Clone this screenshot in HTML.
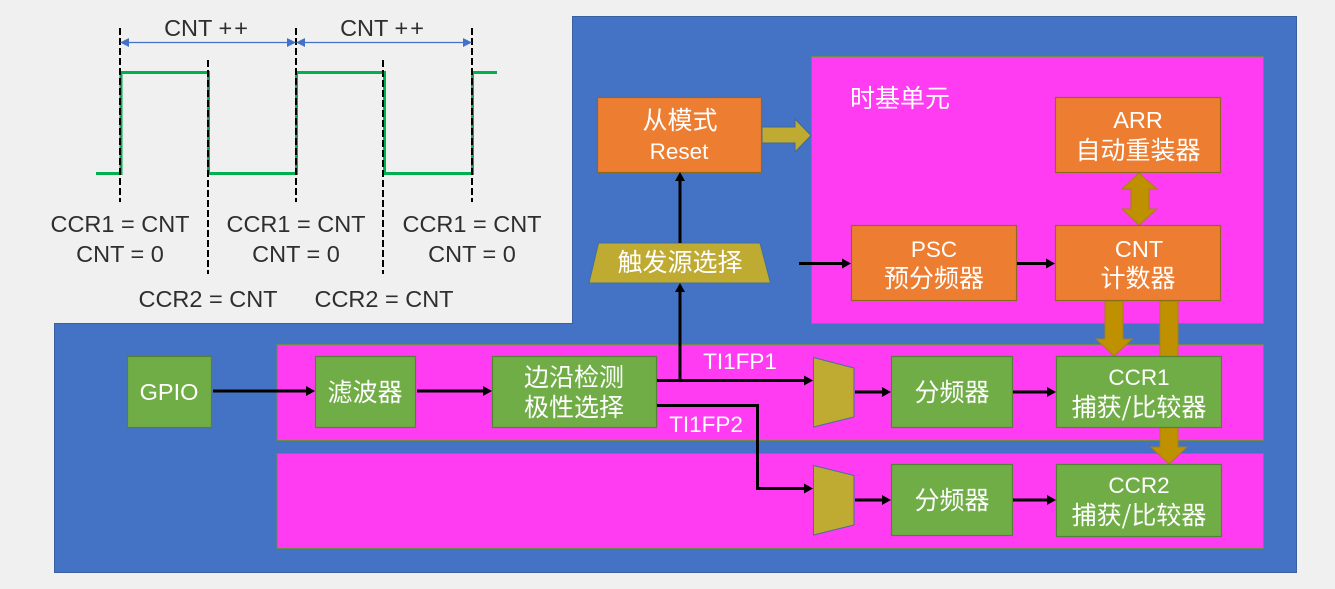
<!DOCTYPE html>
<html><head><meta charset="utf-8">
<style>
html,body{margin:0;padding:0;background:#f0f0f0;width:1335px;height:589px;overflow:hidden}
svg{display:block}
text{font-family:"Liberation Sans","Noto Sans CJK SC",sans-serif;font-size:23.5px;text-anchor:middle}
.w{fill:#fff}
.d{fill:#2e2e2e}
.s{font-size:22.5px}
.cj{font-size:25px;font-family:"Noto Sans CJK SC","Liberation Sans",sans-serif}
.o{fill:#ed7d31;stroke:#8f6a1a;stroke-width:1.2}
.g{fill:#70ad47;stroke:#548235;stroke-width:1.2}
.m{fill:#ff3cf2;stroke:#6a8a50;stroke-width:1}
.gold{fill:#bf9000;stroke:#a5801a;stroke-width:1}
.ol{fill:#bfab32;stroke:#41719c;stroke-width:1}
.c{fill:none;stroke:#000;stroke-width:3}
.a{fill:#000}
.dash{stroke:#000;stroke-width:2;stroke-dasharray:7 3;fill:none}
.wave{fill:none;stroke:#00b050;stroke-width:3}
</style></head><body>
<svg width="1335" height="589" viewBox="0 0 1335 589" xmlns="http://www.w3.org/2000/svg">
<rect width="1335" height="589" fill="#f0f0f0"/>
<polygon points="572.5,16.5 1296.5,16.5 1296.5,572.5 54.5,572.5 54.5,323.5 572.5,323.5" fill="#4472c4" stroke="#3a5f9f"/>
<rect class="m" x="811.5" y="56.5" width="452" height="267"/>
<rect class="m" x="277" y="344.5" width="986.5" height="96"/>
<rect class="m" x="277" y="453.5" width="986.5" height="95"/>

<!-- waveform -->
<path class="wave" d="M96,173.5H121V72.5H208.5V173.5H296.5V72.5H384.5V173.5H472.5V72.5H497"/>
<path class="dash" d="M120,28V202M296,28V202M472,28V202M208,60V274M383,60V274"/>
<g stroke="#4472c4" stroke-width="1.3" fill="none"><path d="M128,42.5H288M304,42.5H464"/></g>
<g fill="#4472c4">
<polygon points="120,42.5 129,38 129,47"/><polygon points="296,42.5 287,38 287,47"/>
<polygon points="296,42.5 305,38 305,47"/><polygon points="472,42.5 463,38 463,47"/>
</g>
<text class="d" x="207" y="36">CNT <tspan letter-spacing="2">++</tspan></text>
<text class="d" x="383" y="36">CNT <tspan letter-spacing="2">++</tspan></text>
<text class="d" x="120" y="232">CCR1 = CNT</text><text class="d" x="120" y="262">CNT = 0</text>
<text class="d" x="296" y="232">CCR1 = CNT</text><text class="d" x="296" y="262">CNT = 0</text>
<text class="d" x="472" y="232">CCR1 = CNT</text><text class="d" x="472" y="262">CNT = 0</text>
<text class="d" x="208" y="307">CCR2 = CNT</text>
<text class="d" x="384" y="307">CCR2 = CNT</text>

<!-- gold arrows -->
<polygon class="ol" points="762,127 795,127 795,119 811,135.5 795,152 795,143 762,143" style="stroke:#3f6a9c"/>
<polygon class="gold" points="1139,173 1157,189 1149,189 1149,209 1157,209 1139,225 1122,209 1131,209 1131,189 1122,189"/>
<polygon class="gold" points="1105,301 1123,301 1123,339 1132,339 1114,356 1096,339 1105,339"/>
<rect class="gold" x="1160" y="301" width="18" height="56"/>
<polygon class="gold" points="1160,427 1178,427 1178,447 1187,447 1169,464 1151,447 1160,447"/>

<!-- orange -->
<rect class="o" x="597.5" y="97.5" width="164" height="75"/>
<rect class="o" x="1055.5" y="97.5" width="165" height="75"/>
<rect class="o" x="851.5" y="225.5" width="165" height="75"/>
<rect class="o" x="1055.5" y="225.5" width="165" height="75"/>
<polygon class="ol" points="598.5,243 760,243 770.5,283 589,283"/>

<!-- green -->
<rect class="g" x="127.5" y="356.5" width="84" height="71"/>
<rect class="g" x="315.5" y="356.5" width="100" height="71"/>
<rect class="g" x="492.5" y="356.5" width="164" height="71"/>
<rect class="g" x="891.5" y="356.5" width="121" height="71"/>
<rect class="g" x="1056.5" y="356.5" width="165" height="71"/>
<rect class="g" x="891.5" y="464.5" width="121" height="71"/>
<rect class="g" x="1056.5" y="464.5" width="165" height="72"/>

<!-- mux -->
<polygon class="ol" points="813.5,357.5 854,368 854,417 813.5,427"/>
<polygon class="ol" points="813.5,465.5 854,475.5 854,525 813.5,535"/>

<!-- connectors -->
<path class="c" d="M213,391H308M417,391H485M657,380.5H806M680,380V291M657,405.5H757.5V488.5H806M680,243V180M855,392H884M1013,392H1049M855,500H884M1013,500H1049M799,263.5H844M1017,263.5H1048"/>
<g class="a">
<polygon points="315,391 306,386 306,396"/>
<polygon points="492,391 483,386 483,396"/>
<polygon points="813,380.5 804,375.5 804,385.5"/>
<polygon points="680,283 675,292 685,292"/>
<polygon points="680,172 675,181 685,181"/>
<polygon points="813,488.5 804,483.5 804,493.5"/>
<polygon points="891,392 882,387 882,397"/>
<polygon points="1056,392 1047,387 1047,397"/>
<polygon points="891,500 882,495 882,505"/>
<polygon points="1056,500 1047,495 1047,505"/>
<polygon points="851,263.5 842,258.5 842,268.5"/>
<polygon points="1055,263.5 1046,258.5 1046,268.5"/>
</g>

<!-- labels -->
<text class="w cj" x="680" y="129">从模式</text>
<text class="w s" x="679" y="159">Reset</text>
<text class="w cj" x="900" y="107">时基单元</text>
<text class="w" x="1138" y="128">ARR</text>
<text class="w cj" x="1138" y="159">自动重装器</text>
<text class="w s" x="934" y="257">PSC</text>
<text class="w cj" x="934" y="287">预分频器</text>
<text class="w" x="1139" y="257">CNT</text>
<text class="w cj" x="1138" y="287">计数器</text>
<text class="w cj" x="680" y="271">触发源选择</text>
<text class="w" x="169" y="400">GPIO</text>
<text class="w cj" x="365" y="401">滤波器</text>
<text class="w cj" x="574" y="386">边沿检测</text>
<text class="w cj" x="574" y="416">极性选择</text>
<text class="w s" x="740" y="369">TI1FP1</text>
<text class="w s" x="706" y="432">TI1FP2</text>
<text class="w cj" x="952" y="401">分频器</text>
<text class="w cj" x="952" y="509">分频器</text>
<text class="w s" x="1139" y="385">CCR1</text>
<text class="w cj" x="1139" y="416">捕获/比较器</text>
<text class="w s" x="1139" y="493">CCR2</text>
<text class="w cj" x="1139" y="524">捕获/比较器</text>
</svg>
</body></html>
